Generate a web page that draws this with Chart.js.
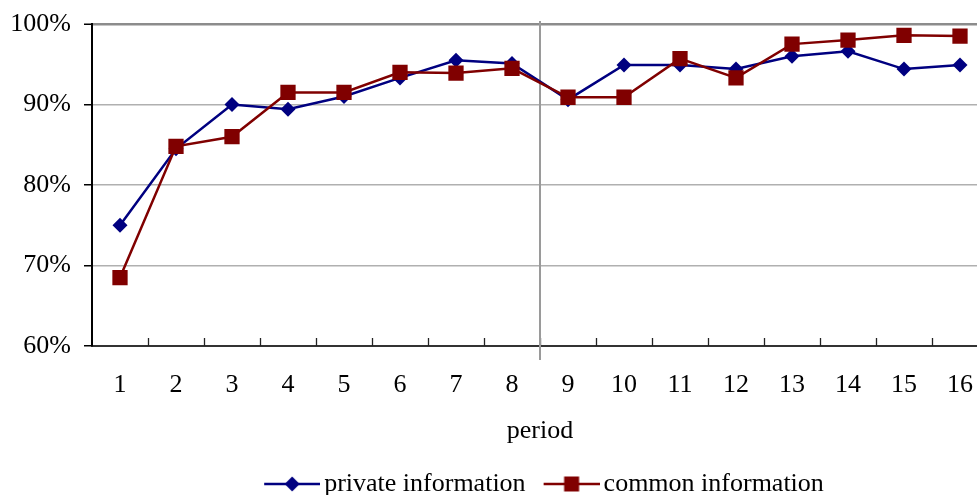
<!DOCTYPE html>
<html>
<head>
<meta charset="utf-8">
<script src="https://cdn.jsdelivr.net/npm/chart.js@4/dist/chart.umd.min.js"></script>
<style>
  html, body { margin: 0; padding: 0; background: #fff; overflow: hidden; }
  #wrap { width: 977px; height: 495px; position: relative; overflow: hidden; }
</style>
</head>
<body>
<div id="wrap"><canvas id="c" width="1087" height="507"></canvas></div>
<script>
// Share of correct choices per period, two information treatments
const periods = ['1', '2', '3', '4', '5', '6', '7', '8', '9', '10', '11', '12', '13', '14', '15', '16'];
const privateInfo = [75.0, 84.5, 90.0, 89.4, 91.0, 93.3, 95.5, 95.1, 90.6, 94.9, 94.9, 94.4, 96.0, 96.6, 94.4, 94.9];
const commonInfo  = [68.5, 84.8, 86.0, 91.5, 91.5, 94.0, 93.9, 94.5, 90.9, 90.9, 95.7, 93.3, 97.5, 98.0, 98.6, 98.5];
const yTicks = [60, 70, 80, 90, 100];
const seriesNames = ['private information', 'common information'];
const breakAfterPeriod = 8;

const FONT = "'Liberation Serif', 'Times New Roman', serif";
const BLUE = '#000080';
const RED = '#800000';

// legend icons: a short line with the series marker in the middle
// (left part of the canvas is left transparent so the icon sits close to its text)
function legendIcon(color, shape) {
  const cv = document.createElement('canvas');
  cv.width = 73; cv.height = 18;
  const g = cv.getContext('2d');
  g.strokeStyle = color; g.lineWidth = 2.5;
  g.beginPath(); g.moveTo(17, 9); g.lineTo(73, 9); g.stroke();
  g.fillStyle = color;
  g.beginPath();
  if (shape === 'diamond') {
    g.moveTo(45, 1.5); g.lineTo(52.5, 9); g.lineTo(45, 16.5); g.lineTo(37.5, 9);
  } else {
    g.rect(37.5, 1.5, 15, 15);
  }
  g.closePath(); g.fill();
  return cv;
}
const icons = [legendIcon(BLUE, 'diamond'), legendIcon(RED, 'square')];

// inner tick marks between periods and the separator between the two phases
const periodMarks = {
  id: 'periodMarks',
  beforeDatasetsDraw(chart) {
    const { ctx, chartArea, scales: { x } } = chart;
    ctx.save();
    ctx.strokeStyle = '#222';
    ctx.lineWidth = 1.3;
    for (let i = 0; i < periods.length - 1; i++) {
      const px = Math.round((x.getPixelForValue(i) + x.getPixelForValue(i + 1)) / 2) + 0.5;
      ctx.beginPath();
      ctx.moveTo(px, chartArea.bottom);
      ctx.lineTo(px, chartArea.bottom - 8);
      ctx.stroke();
    }
    const sx = Math.round((x.getPixelForValue(breakAfterPeriod - 1) + x.getPixelForValue(breakAfterPeriod)) / 2);
    ctx.strokeStyle = '#9a9a9a';
    ctx.lineWidth = 2;
    ctx.beginPath();
    ctx.moveTo(sx, chartArea.top - 3);
    ctx.lineTo(sx, chartArea.bottom + 14);
    ctx.stroke();
    ctx.restore();
  }
};

new Chart(document.getElementById('c'), {
  type: 'line',
  data: {
    labels: periods,
    datasets: [
      {
        label: seriesNames[0], data: privateInfo, order: 1,
        borderColor: BLUE, backgroundColor: BLUE, borderWidth: 2.5,
        pointStyle: 'rectRot', pointRadius: 7.5, pointHoverRadius: 7.5, pointBorderWidth: 0,
        tension: 0, fill: false
      },
      {
        label: seriesNames[1], data: commonInfo, order: 0,
        borderColor: RED, backgroundColor: RED, borderWidth: 2.5,
        pointStyle: 'rect', pointRadius: 10.8, pointHoverRadius: 10.8, pointBorderWidth: 0,
        tension: 0, fill: false
      }
    ]
  },
  options: {
    responsive: false,
    animation: false,
    events: [],
    layout: { padding: { top: 24, right: 99, bottom: 0, left: 0 } },
    scales: {
      x: {
        offset: true,
        afterFit(scale) { scale.height = 115; scale.paddingLeft = 0; scale.paddingRight = 0; },
        grid: { display: true, drawOnChartArea: false, drawTicks: false, offset: true },
        border: { display: true, color: '#333', width: 2 },
        ticks: { color: '#000', font: { family: FONT, size: 26 }, padding: 24, maxRotation: 0, autoSkip: false },
        title: { display: true, text: 'period', color: '#000', font: { family: FONT, size: 26 }, padding: { top: 10, bottom: 14 } }
      },
      y: {
        min: 60, max: 100,
        afterFit(scale) { scale.width = 92; scale.paddingTop = 0; scale.paddingBottom = 0; },
        afterBuildTicks(scale) { scale.ticks = yTicks.map(v => ({ value: v })); },
        grid: {
          color: ctx => ctx.tick && ctx.tick.value === 100 ? '#8c8c8c' : '#b0b0b0',
          lineWidth: ctx => ctx.tick && ctx.tick.value === 100 ? 2.5 : 1.5,
          tickColor: '#000', tickLength: 8, tickWidth: 1.5
        },
        border: { display: true, color: '#000', width: 2 },
        ticks: { color: '#000', font: { family: FONT, size: 26 }, padding: 13, callback: v => v + '%' }
      }
    },
    plugins: {
      tooltip: { enabled: false },
      legend: {
        position: 'bottom',
        fullSize: false,
        labels: {
          usePointStyle: true, pointStyleWidth: 55, padding: 10,
          color: '#000', font: { family: FONT, size: 26 },
          generateLabels(chart) {
            const items = Chart.defaults.plugins.legend.labels.generateLabels(chart);
            items.forEach(it => { it.pointStyle = icons[it.datasetIndex]; });
            return items;
          },
          sort: (a, b) => a.datasetIndex - b.datasetIndex
        }
      }
    }
  },
  plugins: [periodMarks]
});
</script>
</body>
</html>
